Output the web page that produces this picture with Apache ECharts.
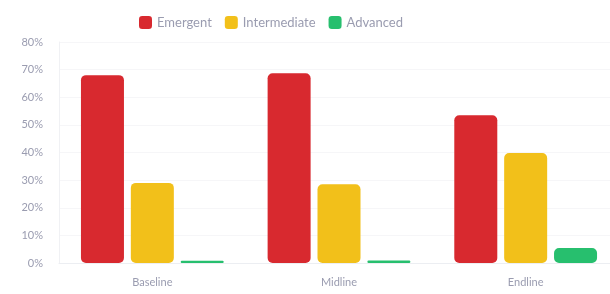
<!DOCTYPE html>
<html>
<head>
<meta charset="utf-8">
<script src="https://cdn.jsdelivr.net/npm/echarts@6/dist/echarts.min.js"></script>
<style>
  html, body { margin: 0; padding: 0; background: #fff; overflow: hidden; }
  /* plot runs past the right edge of the window, as in the reference */
  #chart { width: 619px; height: 294px; }
</style>
</head>
<body>
<div id="chart"></div>
<script>
// survey rounds
const categories = ['Baseline', 'Midline', 'Endline']
const seriesNames = ['Emergent', 'Intermediate', 'Advanced']
// share of respondents, %
const emergent = [68, 68.7, 53.5]
const intermediate = [29, 28.5, 39.8]
const advanced = [0.8, 0.9, 5.4]
const yTicks = [0, 10, 20, 30, 40, 50, 60, 70, 80]

const colors = ['#d8292f', '#f2c01a', '#27bf6e']

const chart = echarts.init(document.getElementById('chart'))

const makeSeries = (name, data, color) => ({
  name: name,
  type: 'bar',
  data: data,
  barWidth: 43,
  barGap: '16%',
  itemStyle: { color: color, borderRadius: 5 },
  emphasis: { disabled: true }
})

chart.setOption({
  animation: false,
  textStyle: { fontFamily: 'Lato, sans-serif' },
  legend: {
    top: 11,
    left: 134,
    itemWidth: 13,
    itemHeight: 13,
    itemGap: 13,
    icon: 'roundRect',
    textStyle: { color: '#9a9cb0', fontSize: 13 },
    data: seriesNames
  },
  grid: { left: 59, right: 0, top: 42, bottom: 31 },
  xAxis: {
    type: 'category',
    data: categories,
    axisLine: { lineStyle: { color: '#eceef2' } },
    axisTick: { show: false },
    axisLabel: { color: '#9a9cb0', fontSize: 11, margin: 14 }
  },
  yAxis: {
    type: 'value',
    min: yTicks[0],
    max: yTicks[yTicks.length - 1],
    interval: 10,
    axisLine: { show: true, lineStyle: { color: '#f0f1f4' } },
    axisLabel: { color: '#9a9cb0', fontSize: 11, margin: 16, formatter: '{value}%' },
    splitLine: { lineStyle: { color: '#f6f6f8' } }
  },
  series: [
    makeSeries(seriesNames[0], emergent, colors[0]),
    makeSeries(seriesNames[1], intermediate, colors[1]),
    makeSeries(seriesNames[2], advanced, colors[2])
  ]
})
</script>
</body>
</html>
